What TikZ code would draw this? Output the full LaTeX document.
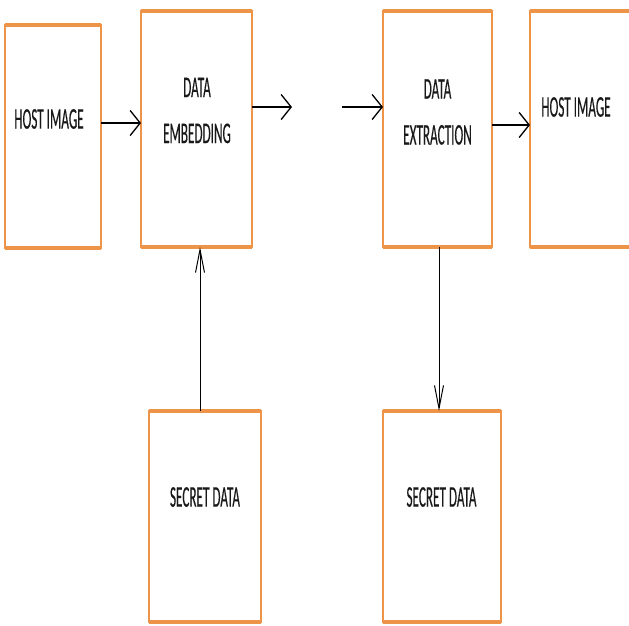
\documentclass[tikz,border=0pt]{standalone}
\usepackage{fontspec}
\setmainfont{Carlito}
\newfontfamily\lblfont[FakeBold=0.5]{Carlito}
\usetikzlibrary{arrows.meta}
\definecolor{boxorange}{RGB}{238,148,72}
\begin{document}
\begin{tikzpicture}[x=1pt,y=-1pt,
  box/.style={draw=boxorange, line width=1.5pt, inner sep=0pt, outer sep=0pt, fill=white},
  edge/.style={boxorange, line width=3.2pt},
  lbl/.style={inner sep=0pt, align=center, xscale=0.44, transform shape,
    font=\lblfont\fontsize{30}{46}\selectfont, text=black!90},
  harrow/.style={line width=1.7pt, -{Straight Barb[length=10pt,width=25pt,line width=1.3pt]}},
  varrow/.style={line width=0.9pt, -{Straight Barb[length=23pt,width=9pt,line width=1pt]}}
]
\useasboundingbox (0,0) rectangle (629,625);
\clip (0,0) rectangle (629,625);

% boxes
\node[box, minimum width=96pt, minimum height=223pt] (hl) at (53,136.5) {};
\node[box, minimum width=111pt, minimum height=236pt] (emb) at (196.5,129) {};
\node[box, minimum width=109pt, minimum height=236pt] (ext) at (437.5,129) {};
\node[box, minimum width=110pt, minimum height=236pt] (hr) at (585,129) {};
\node[box, minimum width=112pt, minimum height=211pt] (sl) at (205,516.5) {};
\node[box, minimum width=118pt, minimum height=211pt] (sr) at (442,516.5) {};

% thicker top and bottom edges
\foreach \b in {hl,emb,ext,hr,sl,sr}{
  \draw[edge] (\b.north west) -- (\b.north east);
  \draw[edge] (\b.south west) -- (\b.south east);
}

% labels
\node[lbl] (hlT) at (49,119) {HOST IMAGE};
\node[lbl] (embT) at (197,110.5) {DATA\\EMBEDDING};
\node[lbl] (extT) at (437.5,112) {DATA\\EXTRACTION};
\node[lbl] (hrT) at (576,107) {HOST IMAGE};
\node[lbl] (slT) at (205,497) {SECRET DATA};
\node[lbl] (srT) at (441.5,497) {SECRET DATA};

% connectors
\coordinate (a1) at ([yshift=13.5pt]hl.east);
\draw[harrow] (a1) -- (a1 -| emb.west);

\coordinate (gapA) at (292,107);
\coordinate (gapB) at (342,107);
\draw[harrow] (emb.east |- gapA) -- (gapA);
\draw[harrow] (gapB) -- (ext.west |- gapB);

\coordinate (a2) at ([yshift=4pt]ext.east);
\draw[harrow] (a2) -- (a2 -| hr.west);

\coordinate (v1) at ([xshift=-5pt]sl.north);
\draw[varrow] (v1) -- (v1 |- emb.south);

\coordinate (v2) at ([xshift=1.5pt]ext.south);
\draw[varrow] (v2) -- (v2 |- sr.north);
\end{tikzpicture}
\end{document}
